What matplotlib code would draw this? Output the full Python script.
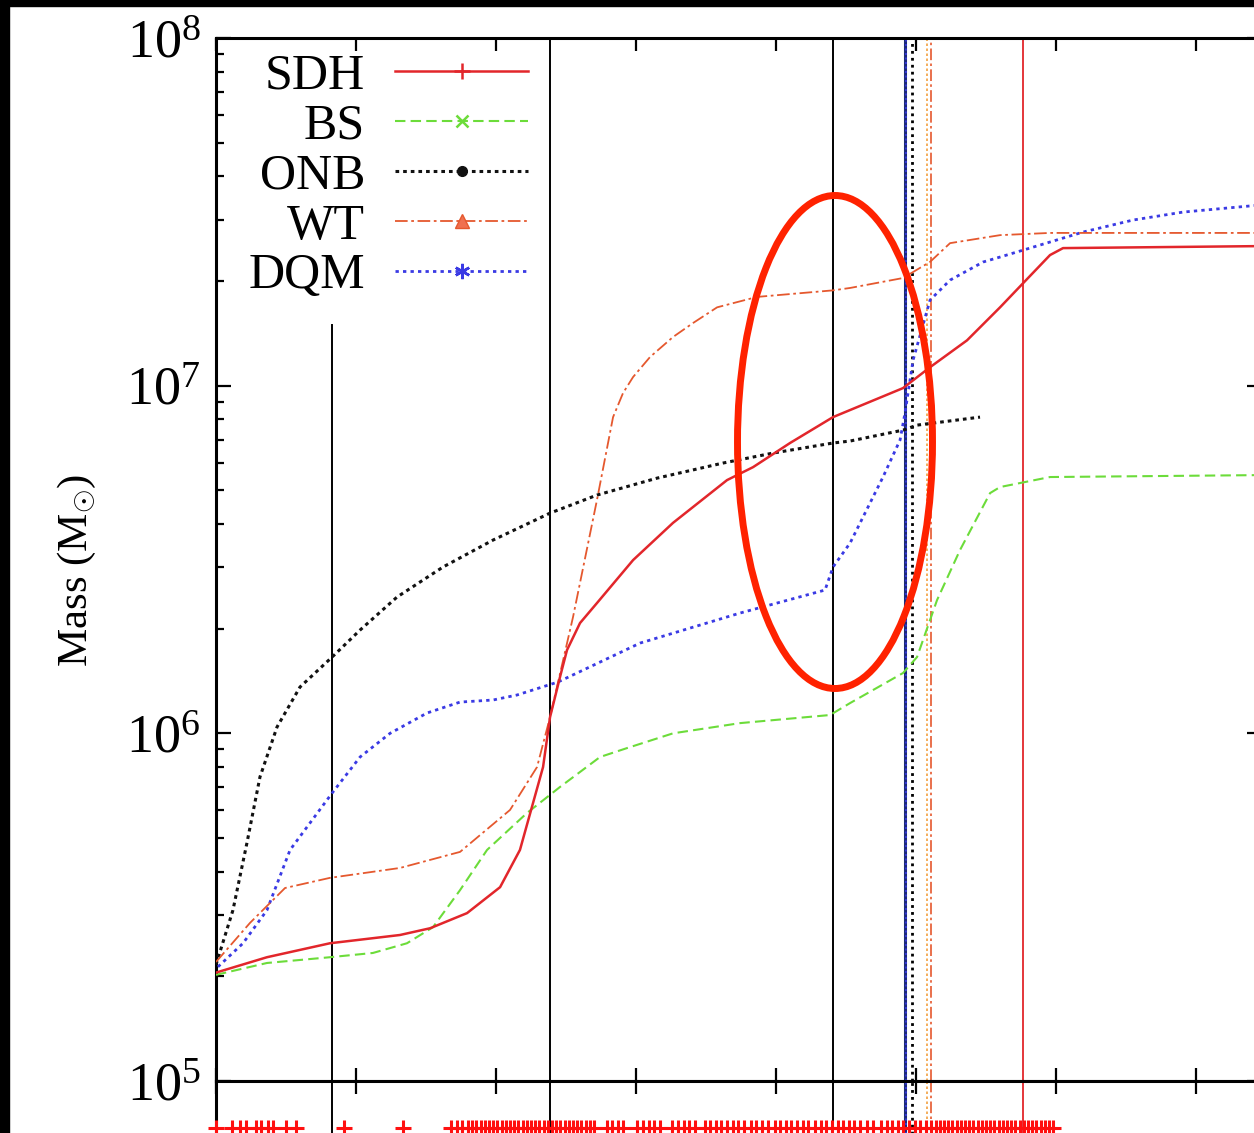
import numpy as np
import matplotlib
matplotlib.use('Agg')
import matplotlib.pyplot as plt
from matplotlib.lines import Line2D
from matplotlib.patches import Ellipse, Rectangle
from matplotlib.ticker import LogLocator, NullFormatter, NullLocator, MultipleLocator

plt.rcParams['font.family'] = ['Liberation Serif', 'DejaVu Serif']
plt.rcParams['mathtext.fontset'] = 'custom'
plt.rcParams['mathtext.rm'] = 'Liberation Serif'
plt.rcParams['mathtext.it'] = 'Liberation Serif:italic'
plt.rcParams['mathtext.bf'] = 'Liberation Serif:bold'

# ---- curves (x in axis units, mass in Msun) ----
sdh_x = [0.0, 0.364, 0.814, 1.314, 1.529, 1.793, 2.029, 2.171, 2.336, 2.386, 2.457, 2.507,
         2.6, 2.721, 2.979, 3.264, 3.65, 3.836, 4.1, 4.407, 4.529, 4.907, 5.1, 5.364, 5.6,
         5.764, 5.957, 6.05, 7.45]
sdh_m = [2.05e5, 2.27e5, 2.49e5, 2.63e5, 2.75e5, 3.04e5, 3.61e5, 4.62e5, 8.0e5, 1.114e6,
         1.452e6, 1.736e6, 2.076e6, 2.37e6, 3.15e6, 4.03e6, 5.35e6, 5.83e6, 6.84e6, 8.12e6,
         8.51e6, 9.84e6, 1.13e7, 1.35e7, 1.68e7, 1.97e7, 2.375e7, 2.487e7, 2.52e7]

bs_x = [0.0, 0.364, 0.814, 1.121, 1.364, 1.55, 1.743, 1.936, 2.221, 2.457, 2.743, 2.936,
        3.264, 3.743, 4.386, 4.529, 4.907, 5.007, 5.15, 5.314, 5.529, 5.6, 5.957, 7.45]
bs_m = [2.02e5, 2.185e5, 2.27e5, 2.335e5, 2.49e5, 2.77e5, 3.54e5, 4.62e5, 5.90e5, 7.01e5,
        8.55e5, 9.07e5, 1.0e6, 1.07e6, 1.129e6, 1.222e6, 1.491e6, 1.657e6, 2.417e6, 3.366e6,
        4.91e6, 5.11e6, 5.46e6, 5.53e6]

onb_x = [0.0, 0.121, 0.221, 0.314, 0.436, 0.6, 0.829, 1.029, 1.293, 1.621, 1.979, 2.386,
         2.721, 3.15, 3.621, 3.979, 4.407, 4.529, 4.907, 5.007, 5.457]
onb_m = [2.16e5, 3.10e5, 4.84e5, 7.49e5, 1.043e6, 1.359e6, 1.657e6, 1.982e6, 2.466e6,
         3.008e6, 3.597e6, 4.30e6, 4.845e6, 5.42e6, 5.99e6, 6.40e6, 6.84e6, 6.93e6, 7.45e6,
         7.70e6, 8.12e6]

wt_x = [0.0, 0.243, 0.493, 0.814, 1.314, 1.743, 2.1, 2.293, 2.386, 2.55, 2.721, 2.836,
        2.907, 2.979, 3.1, 3.264, 3.407, 3.579, 3.864, 4.407, 4.529, 4.907, 5.1, 5.243,
        5.6, 5.957, 7.45]
wt_m = [2.20e5, 2.85e5, 3.59e5, 3.84e5, 4.10e5, 4.56e5, 6.02e5, 8.0e5, 1.114e6, 2.16e6,
        4.69e6, 8.12e6, 9.52e6, 1.059e7, 1.209e7, 1.38e7, 1.514e7, 1.68e7, 1.80e7, 1.88e7,
        1.91e7, 2.04e7, 2.27e7, 2.57e7, 2.71e7, 2.75e7, 2.75e7]

dqm_x = [0.014, 0.193, 0.364, 0.529, 0.671, 0.829, 1.029, 1.243, 1.507, 1.743, 1.979, 2.15,
         2.443, 3.029, 3.743, 4.35, 4.407, 4.529, 4.764, 4.886, 4.921, 4.979, 5.1, 5.243,
         5.479, 5.6, 5.836, 6.193, 6.55, 6.907, 7.45]
dqm_m = [2.13e5, 2.49e5, 3.10e5, 4.62e5, 5.52e5, 6.73e5, 8.55e5, 1.0e6, 1.144e6, 1.23e6,
         1.247e6, 1.289e6, 1.405e6, 1.818e6, 2.218e6, 2.583e6, 3.008e6, 3.527e6, 5.46e6,
         6.98e6, 8.34e6, 1.185e7, 1.763e7, 2.012e7, 2.268e7, 2.344e7, 2.503e7, 2.766e7,
         2.995e7, 3.157e7, 3.306e7]

# vertical marker lines
vline_black = [2.386, 4.407]
vline_black_short = 0.829
vline_navy = 4.921
vline_onb = 4.971
vline_orange = 5.079
vline_wt = 5.107
vline_sdh = 5.764

# event ticks in the lower strip
events = [0.0, 0.114, 0.171, 0.214, 0.286, 0.321, 0.371, 0.407, 0.5, 0.571, 0.914, 1.336,
          1.68, 1.72, 1.76, 1.80, 1.83, 1.86, 1.89, 1.92, 1.95, 1.98, 2.01, 2.04, 2.07,
          2.10, 2.13, 2.16, 2.19, 2.22, 2.25, 2.28, 2.31, 2.34, 2.37, 2.40, 2.43, 2.46,
          2.49, 2.52, 2.55, 2.58, 2.61, 2.64, 2.67, 2.70,
          2.79, 2.83, 2.87, 2.91, 3.01, 3.05, 3.09, 3.13, 3.17,
          3.26, 3.30, 3.34, 3.38, 3.42, 3.49, 3.53, 3.57, 3.61, 3.65, 3.69, 3.73, 3.77,
          3.82, 3.86, 3.90, 3.94, 3.99, 4.03, 4.07, 4.11, 4.15, 4.19, 4.23,
          4.28, 4.32, 4.36, 4.40, 4.44, 4.48, 4.52, 4.56, 4.60, 4.65, 4.69,
          4.75, 4.79, 4.83, 4.87, 4.91, 4.95, 4.99, 5.03, 5.07, 5.11, 5.14, 5.17, 5.20,
          5.23, 5.26, 5.29, 5.32, 5.35, 5.38, 5.41, 5.44, 5.47, 5.50, 5.53, 5.56, 5.59,
          5.62, 5.65, 5.68, 5.71, 5.74, 5.77, 5.80, 5.83, 5.86, 5.89, 5.92, 5.95, 5.98]

labels = ['SDH', 'BS', 'ONB', 'WT', 'DQM']

c_sdh = '#e2262b'
c_bs = '#6cdc3a'
c_onb = '#111111'
c_wt = '#e5582e'
c_dqm = '#3a3ae4'
c_navy = '#1c2a78'
c_orange = '#f2a040'

ls_bs = (0, (5, 2.5))
ls_onb = (0, (1.2, 1.3))
ls_wt = (0, (7, 2, 1.5, 2))
ls_dqm = (0, (1.2, 1.5))

fig = plt.figure(figsize=(12.54, 11.33), dpi=100)
W, H = 1254.0, 1133.0
x0, x1, y0, y1 = 216, 1262, 38, 1081
ax = fig.add_axes([x0 / W, (H - y1) / H, (x1 - x0) / W, (y1 - y0) / H])
ax2 = fig.add_axes([x0 / W, (H - y1 - 100) / H, (x1 - x0) / W, 100 / H])

xlim = (0, 7.471)

ax.plot(onb_x, onb_m, color=c_onb, lw=2.2, ls=ls_onb, zorder=3)
ax.plot(dqm_x, dqm_m, color=c_dqm, lw=2.0, ls=ls_dqm, zorder=3)
ax.plot(bs_x, bs_m, color=c_bs, lw=1.5, ls=ls_bs, zorder=3)
ax.plot(wt_x, wt_m, color=c_wt, lw=1.3, ls=ls_wt, zorder=3)
ax.plot(sdh_x, sdh_m, color=c_sdh, lw=1.8, zorder=4)

for a in (ax, ax2):
    for xv in vline_black:
        a.axvline(xv, color='black', lw=1.4, zorder=2)
    a.axvline(vline_navy, color=c_navy, lw=2.2, zorder=2)
    a.axvline(vline_navy + 0.01, color=c_dqm, lw=1.2, ls=ls_dqm, zorder=2)
    a.axvline(vline_onb, color='black', lw=2.0, ls=(0, (1, 1.5)), zorder=2)
    a.axvline(vline_orange, color=c_orange, lw=1.2, ls=(0, (1.5, 1.5)), zorder=2)
    a.axvline(vline_wt, color=c_wt, lw=1.2, ls=ls_wt, zorder=2)
    a.axvline(vline_sdh, color=c_sdh, lw=1.3, zorder=2)
ax.axvline(vline_black_short, ymax=0.725, color='black', lw=1.4, zorder=2)
ax2.axvline(vline_black_short, color='black', lw=1.4, zorder=2)

ax.set_yscale('log')
ax.set_ylim(1e5, 1e8)
ax.set_xlim(*xlim)
ax.xaxis.set_major_locator(MultipleLocator(1))
ax.xaxis.set_minor_locator(NullLocator())
ax.yaxis.set_major_locator(LogLocator(base=10, numticks=10))
ax.yaxis.set_minor_locator(LogLocator(base=10, subs=np.arange(2, 10), numticks=20))
ax.yaxis.set_minor_formatter(NullFormatter())
ax.tick_params(axis='both', which='both', direction='in', top=True, right=True, width=1.6)
ax.tick_params(axis='y', which='major', length=11, labelsize=39, pad=11)
ax.tick_params(axis='y', which='minor', length=6)
ax.tick_params(axis='x', which='major', length=9.5, labelbottom=False)
for s in ax.spines.values():
    s.set_linewidth(2.2)

ax.set_ylabel(r'Mass (M$_{\odot}$)', fontsize=31)
ax.yaxis.set_label_coords((98 - x0) / (x1 - x0), (y1 - 570) / (y1 - y0))

# lower strip with the event ticks
ax2.plot(events, [0.53] * len(events), ls='none', marker='+', ms=11, mew=2.2,
         color='#ff1010', clip_on=False, zorder=5)
ax2.set_xlim(*xlim)
ax2.set_ylim(0, 1)
ax2.xaxis.set_major_locator(MultipleLocator(1))
ax2.tick_params(axis='x', which='major', direction='in', top=True, bottom=False,
                length=9.5, width=1.6, labelbottom=False)
ax2.set_yticks([])
for s in ax2.spines.values():
    s.set_linewidth(2.2)

# legend, text on the left, samples on the right
handles = [
    Line2D([], [], color=c_sdh, lw=1.8, marker='+', ms=11, mew=1.8),
    Line2D([], [], color=c_bs, lw=1.5, ls=ls_bs, marker='x', ms=8, mew=1.8),
    Line2D([], [], color=c_onb, lw=2.2, ls=ls_onb, marker='o', ms=7),
    Line2D([], [], color=c_wt, lw=1.3, ls=ls_wt, marker='^', ms=10, mfc='#f07050', mec=c_wt),
    Line2D([], [], color=c_dqm, lw=2.0, ls=ls_dqm, marker=(6, 2, 0), ms=11, mew=1.8),
]
leg = ax.legend(handles, labels, loc='upper right',
                bbox_to_anchor=((528 - x0) / (x1 - x0), (y1 - 53) / (y1 - y0)),
                frameon=False, markerfirst=False, fontsize=36, handlelength=2.66,
                handletextpad=0.6, labelspacing=0.07, borderpad=0, borderaxespad=0,
                numpoints=1)

# highlight ellipse
ax.add_patch(Ellipse(((835 - x0) / (x1 - x0), (y1 - 442) / (y1 - y0)),
                     195 / (x1 - x0), 493 / (y1 - y0), transform=ax.transAxes,
                     fill=False, edgecolor='#ff2200', lw=5, zorder=10, clip_on=False))

# dark slide border at top and left
fig.patches.append(Rectangle((0, 0), 9 / W, 1, transform=fig.transFigure,
                             color='black', zorder=20))
fig.patches.append(Rectangle((0, 1 - 6 / H), 1, 6 / H, transform=fig.transFigure,
                             color='black', zorder=20))

fig.savefig('out.png', dpi=100)
